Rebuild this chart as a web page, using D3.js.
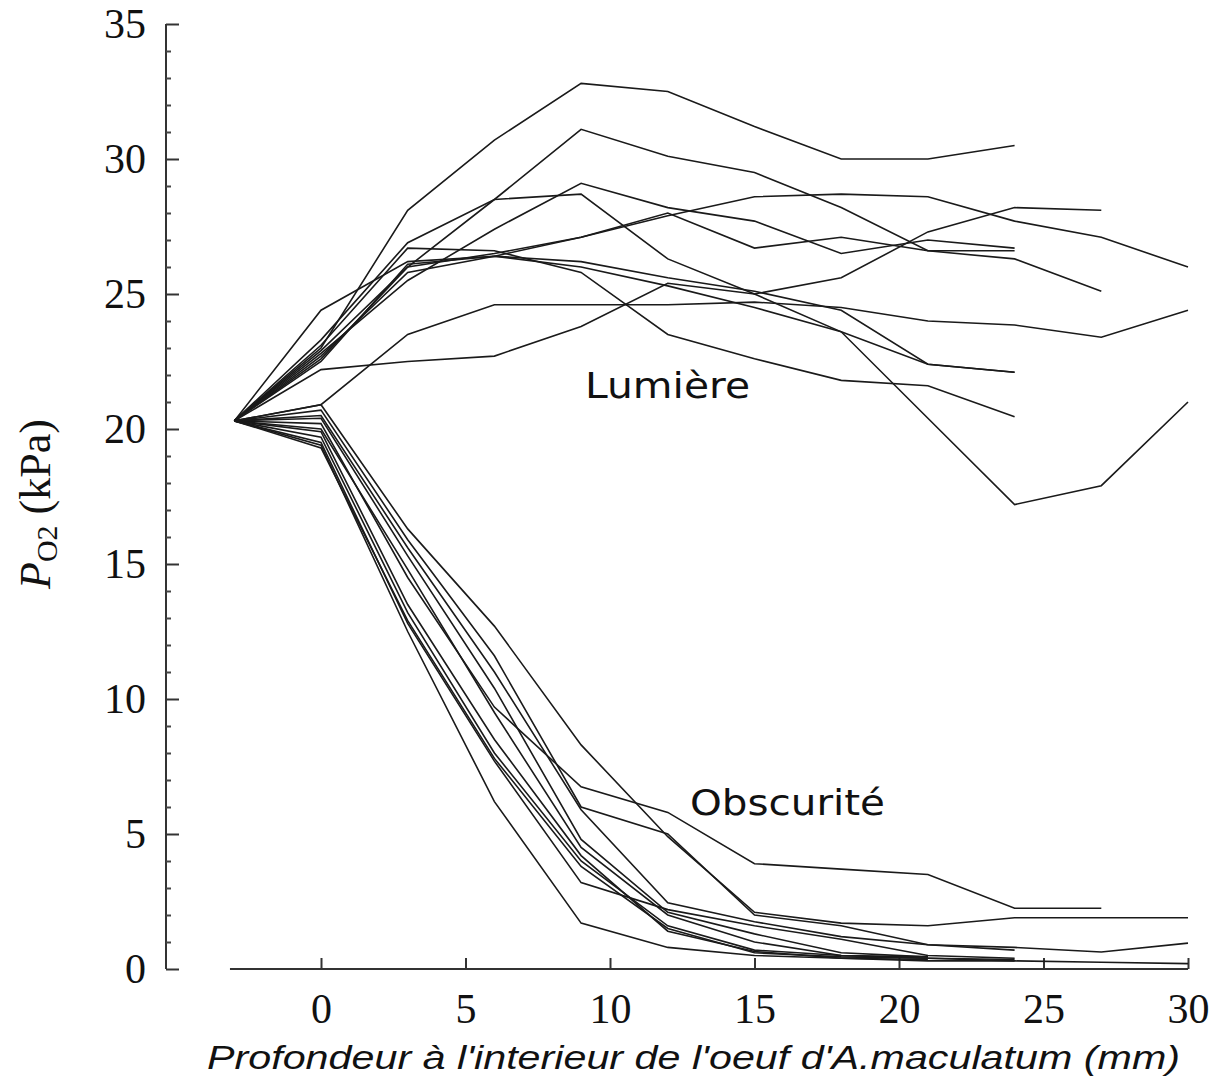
<!DOCTYPE html>
<html><head><meta charset="utf-8">
<script src="https://cdn.jsdelivr.net/npm/d3@7"></script>
<style>body{margin:0;background:#fff;} svg{display:block;}</style>
</head><body>
<script>
// ---- data ----
const depths = [-3, 0, 3, 6, 9, 12, 15, 18, 21, 24, 27, 30];
const xTicks = [0, 5, 10, 15, 20, 25, 30];
const yTicks = [0, 5, 10, 15, 20, 25, 30, 35];

// Lumière (light) profiles, PO2 (kPa) at each depth
const light1  = [20.3, 23.0, 28.1, 30.7, 32.8, 32.5, 31.2, 30.0, 30.0, 30.5];
const light2  = [20.3, 22.9, 26.0, 28.5, 31.1, 30.1, 29.5, 28.2, 26.6, 26.3, 25.1];
const light3  = [20.3, 23.3, 26.9, 28.5, 28.7, 26.3, 25.0, 23.6, 20.4, 17.2, 17.9, 21.0];
const light4  = [20.3, 22.8, 25.5, 27.4, 29.1, 28.2, 27.7, 26.5, 27.0, 26.7];
const light5  = [20.3, 22.6, 26.0, 26.5, 27.1, 27.9, 28.6, 28.7, 28.6, 27.7, 27.1, 26.0];
const light6  = [20.3, 22.7, 25.8, 26.4, 27.1, 28.0, 26.7, 27.1, 26.6, 26.6];
const light7  = [20.3, 22.2, 22.5, 22.7, 23.8, 25.4, 25.0, 25.6, 27.3, 28.2, 28.1];
const light8  = [20.3, 20.9, 23.5, 24.6, 24.6, 24.6, 24.7, 24.5, 24.0, 23.85, 23.4, 24.4];
const light9  = [20.3, 24.4, 26.2, 26.4, 26.2, 25.6, 25.1, 24.4, 22.4, 22.1];
const light10 = [20.3, 23.1, 26.7, 26.6, 25.8, 23.5, 22.6, 21.8, 21.6, 20.45];
const light11 = [20.3, 22.5, 26.1, 26.4, 26.0, 25.3, 24.5, 23.6, 22.4, 22.1];

// Obscurité (dark) profiles
const dark1  = [20.3, 20.2, 14.5, 9.7, 6.75, 5.8, 3.9, 3.7, 3.5, 2.25, 2.25];
const dark2  = [20.3, 20.9, 16.3, 12.7, 8.3, 4.9, 2.1, 1.7, 1.6, 1.9, 1.9, 1.9];
const dark3  = [20.3, 20.7, 15.9, 11.6, 6.0, 5.0, 2.0, 1.6, 0.9, 0.8, 0.63, 0.96];
const dark4  = [20.3, 20.5, 15.6, 11.0, 5.9, 2.45, 1.75, 1.2, 0.9, 0.7];
const dark5  = [20.3, 20.4, 15.3, 10.4, 4.8, 2.1, 1.3, 0.6, 0.45];
const dark6  = [20.3, 20.0, 14.8, 9.5, 4.5, 2.0, 1.0, 0.5, 0.4, 0.3];
const dark7  = [20.3, 19.9, 13.5, 8.5, 4.2, 1.4, 0.65, 0.4, 0.3, 0.3, 0.25, 0.2];
const dark8  = [20.3, 19.7, 13.2, 8.0, 4.0, 1.6, 0.7, 0.5, 0.45];
const dark9  = [20.3, 19.5, 12.8, 7.7, 3.2, 2.2, 1.6, 1.1, 0.5, 0.4];
const dark10 = [20.3, 19.4, 12.5, 6.2, 1.7, 0.8, 0.5, 0.4, 0.35];
const dark11 = [20.3, 19.3, 12.9, 7.8, 3.8, 1.5, 0.6, 0.45, 0.4, 0.35];

const lightSeries = [light1, light2, light3, light4, light5, light6, light7, light8, light9, light10, light11];
const darkSeries = [dark1, dark2, dark3, dark4, dark5, dark6, dark7, dark8, dark9, dark10, dark11];

const xTitle = "Profondeur à l'interieur de l'oeuf d'A.maculatum (mm)";
const lightLabel = "Lumière";
const darkLabel = "Obscurité";

// ---- drawing ----
const W = 1216, H = 1079;
const svg = d3.select("body").append("svg").attr("width", W).attr("height", H);

const x = d3.scaleLinear().domain([0, 30]).range([321, 1188]);
const y = d3.scaleLinear().domain([0, 35]).range([969, 24]);
const yAxisX = 166;
const xAxisY = 969;

// x axis
const gx = svg.append("g").attr("transform", `translate(0,${xAxisY})`);
gx.append("line").attr("x1", x(-3.15)).attr("x2", x(30)).attr("y1", 0).attr("y2", 0)
  .attr("stroke", "#333").attr("stroke-width", 2);
gx.call(d3.axisBottom(x).tickValues(xTicks).tickSize(-11).tickPadding(24)
  .tickSizeOuter(0).tickFormat(d3.format("d")));
gx.select(".domain").remove();
gx.selectAll(".tick line").attr("stroke", "#333").attr("stroke-width", 2);
gx.selectAll(".tick text").attr("font-family", "'Liberation Serif', 'Times New Roman', serif")
  .attr("font-size", 42).attr("fill", "#111").attr("dy", "0.71em");

// y axis
const gy = svg.append("g").attr("transform", `translate(${yAxisX},0)`);
gy.append("line").attr("x1", 0).attr("x2", 0).attr("y1", y(35)).attr("y2", y(0))
  .attr("stroke", "#333").attr("stroke-width", 2);
gy.call(d3.axisLeft(y).tickValues(yTicks).tickSize(-13).tickPadding(20)
  .tickSizeOuter(0).tickFormat(d3.format("d")));
gy.select(".domain").remove();
gy.selectAll(".tick line").attr("stroke", "#333").attr("stroke-width", 2);
gy.selectAll(".tick text").attr("font-family", "'Liberation Serif', 'Times New Roman', serif")
  .attr("font-size", 42).attr("fill", "#111");
const minorVals = d3.range(0, 36).filter(v => v % 5 !== 0);
const gym = svg.append("g").attr("transform", `translate(${yAxisX},0)`);
gym.call(d3.axisLeft(y).tickValues(minorVals).tickSize(-5).tickFormat(""));
gym.select(".domain").remove();
gym.selectAll(".tick line").attr("stroke", "#444").attr("stroke-width", 2);

// lines
const line = d3.line().x((d, i) => x(depths[i])).y(d => y(d));
svg.append("g").selectAll("path").data(lightSeries.concat(darkSeries)).join("path")
  .attr("d", d => line(d)).attr("fill", "none")
  .attr("stroke", "#1a1a1a").attr("stroke-width", 1.6).attr("stroke-linejoin", "miter");

// labels
svg.append("text").attr("x", 585).attr("y", 398)
  .attr("font-family", "'DejaVu Sans', Verdana, sans-serif").attr("font-size", 36)
  .attr("textLength", 165).attr("lengthAdjust", "spacingAndGlyphs")
  .attr("fill", "#111").text(lightLabel);
svg.append("text").attr("x", 690).attr("y", 815)
  .attr("font-family", "'DejaVu Sans', Verdana, sans-serif").attr("font-size", 36)
  .attr("textLength", 195).attr("lengthAdjust", "spacingAndGlyphs")
  .attr("fill", "#111").text(darkLabel);

// x title
svg.append("text").attr("x", 207).attr("y", 1069)
  .attr("font-family", "'Liberation Sans', Arial, sans-serif").attr("font-style", "italic")
  .attr("font-size", 33).attr("textLength", 973).attr("lengthAdjust", "spacingAndGlyphs")
  .attr("fill", "#111").text(xTitle);

// y title
const yt = svg.append("text").attr("transform", "translate(50,504) rotate(-90)")
  .attr("text-anchor", "middle")
  .attr("font-family", "'Liberation Serif', 'Times New Roman', serif")
  .attr("font-size", 44).attr("fill", "#111");
yt.append("tspan").attr("font-style", "italic").text("P");
yt.append("tspan").attr("font-size", 30).attr("dy", 7).text("O2");
yt.append("tspan").attr("dy", -7).text(" (kPa)");
</script>
</body></html>
